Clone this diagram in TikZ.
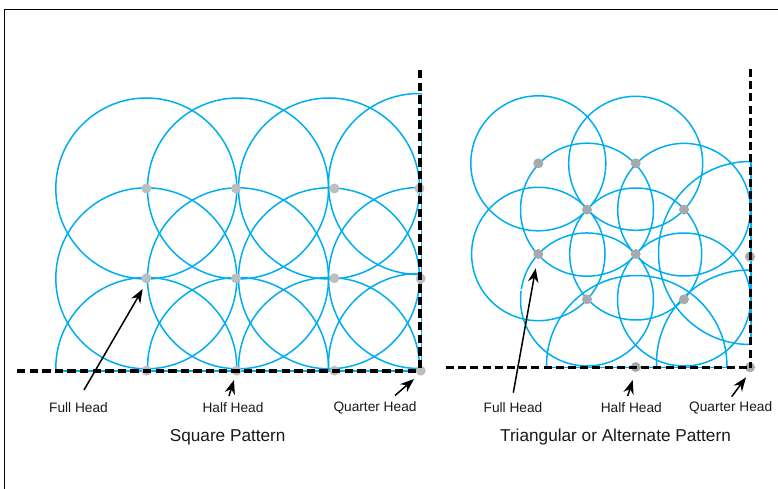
\documentclass[tikz,border=0pt]{standalone}
\usepackage{fontspec}
\setmainfont{Liberation Sans}
\usetikzlibrary{arrows.meta}
\definecolor{ringblue}{HTML}{00AEEF}
\definecolor{dotL}{HTML}{BCBEC0}
\definecolor{dotR}{HTML}{A7A9AC}
\tikzset{
  ring/.style={draw=ringblue,line width=1.5pt},
  headdotL/.style={circle,fill=dotL,inner sep=0pt,minimum size=10pt},
  headdotR/.style={circle,fill=dotR,inner sep=0pt,minimum size=10pt},
  wall/.style={draw=black,line width=3.5pt,dash pattern=on 8.4pt off 4.2pt},
  wallR/.style={draw=black,line width=3.2pt,dash pattern=on 8pt off 4.2pt},
  pointer/.style={draw=black,line width=1.5pt,-{Stealth[length=14pt,width=10.5pt]}},
  small/.style={anchor=base,font=\fontsize{13.7}{15}\selectfont,text=black!90},
  title/.style={anchor=base,font=\fontsize{17.2}{20}\selectfont,text=black!90}
}
\begin{document}
\begin{tikzpicture}[x=1pt,y=-1pt]
\useasboundingbox (0,0) rectangle (778,489);
\draw[black,line width=1.1pt] (4.5,489) -- (4.5,9.5) -- (778,9.5);

% ---------- Square pattern ----------
\begin{scope}
\clip (40,60) rectangle (421.7,371.6);
\foreach \cx/\cy in {146.3/188.5,238/188.5,329/188.5,419/184,
                     146.3/278.3,238/278.3,329/278.3,419/278,
                     146.3/368,238/368,329/368,419/364}
  \draw[ring] (\cx,\cy) circle[radius=90.5pt];
\end{scope}
\draw[ring] (56,371) -- (421.5,371) -- (421.5,94);

\foreach \n/\x/\y in {a1/146.3/188.5,a2/236/188.5,a3/334.4/188.5,a4/419.5/188.5,
                      b1/146.3/278.3,b2/236/278.3,b3/334.4/278.3,b4/420.7/278.5,
                      c1/146.5/370.7,c2/236.5/370.7,c3/334.5/370.7,c4/420.7/370.7}
  \node[headdotL] (\n) at (\x,\y) {};

\coordinate (wl0) at (17,371);
\coordinate (wl1) at (420,371);
\coordinate (wl2) at (420,70);
\draw[wall] (wl0) -- (wl1);
\draw[wall] (wl2) -- (wl1);

\node[small] (lf) at (78.5,412) {Full Head};
\node[small] (lh) at (233,412) {Half Head};
\node[small] (lq) at (375,411.3) {Quarter Head};
\node[title] (lt) at (227.7,441.7) {Square Pattern};

\coordinate (tf) at (84,390);   \coordinate (pf) at (142.7,289);
\coordinate (th) at (229,396);  \coordinate (ph) at (234,380);
\coordinate (tq) at (395,395.5);\coordinate (pq) at (414,379);
\draw[pointer] (tf) -- (pf);
\draw[pointer] (th) -- (ph);
\draw[pointer] (tq) -- (pq);

% ---------- Triangular pattern ----------
\begin{scope}
\clip (460,60) rectangle (751.5,367.8);
\foreach \cx/\cy/\r in {538.3/163.3/67.5,635.7/163.3/67,
                        587/209.7/66.5,684/209.7/66.3,
                        538.3/254/66.7,635.7/254/66,750/253/91.5,
                        684/299.5/66.5,
                        636.7/365.7/90.2,749.5/363/93}
  \draw[ring] (\cx,\cy) circle[radius=\r pt];
\draw[ring] (521.07,290.8) arc[start angle=172.5,end angle=531,radius=66.5pt];
\end{scope}
\draw[ring] (546.7,367.4) -- (727.3,367.4);
\draw[ring] (751,162.5) -- (751,343);

\foreach \n/\x/\y in {d1/538.3/163.3,d2/635.7/163.3,
                      e1/587/209.7,e2/684/209.7,
                      f1/538.3/254,f2/635.7/254,f3/750/256.7,
                      g1/587/299.3,g2/684/299.3,
                      h1/635.7/367,h2/750/367.3}
  \node[headdotR] (\n) at (\x,\y) {};

\coordinate (wr0) at (446,367.5);
\coordinate (wr1) at (750.6,367.5);
\coordinate (wr2) at (750.6,69);
\draw[wallR] (wr0) -- (wr1);
\draw[wallR] (wr2) -- (wr1);

\node[small] (rf) at (513,412) {Full Head};
\node[small] (rh) at (631.3,412) {Half Head};
\node[small] (rq) at (730.7,411.3) {Quarter Head};
\node[title] (rt) at (615.5,441.7) {Triangular or Alternate Pattern};

\coordinate (uf) at (513.3,392.7); \coordinate (qf) at (535.7,268.3);
\coordinate (uh) at (627.7,396);   \coordinate (qh) at (632.7,380);
\coordinate (uq) at (731.7,396.7); \coordinate (qq) at (746,377.3);
\draw[pointer] (uf) -- (qf);
\draw[pointer] (uh) -- (qh);
\draw[pointer] (uq) -- (qq);
\end{tikzpicture}
\end{document}
